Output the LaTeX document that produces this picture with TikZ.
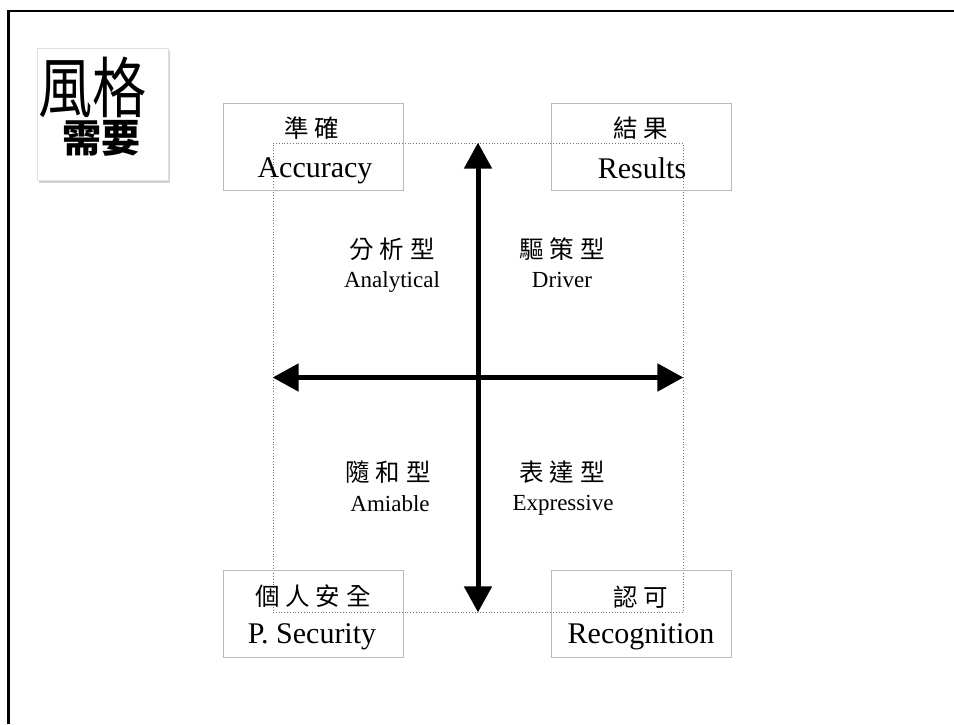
\documentclass[tikz,border=0pt]{standalone}
\usepackage{fontspec}
\setmainfont{Liberation Serif}
\newfontfamily\cjk{Noto Sans CJK TC}
\usetikzlibrary{arrows.meta,shadows}
\def\gap{\hspace{6pt}}
\begin{document}
\begin{tikzpicture}[x=1pt,y=-1pt,
  corner/.style={draw=gray!55, line width=0.8pt, minimum width=180pt, minimum height=87pt, inner sep=0pt},
  zh/.style={font=\cjk\fontsize{24.5}{26}\selectfont, inner sep=0pt},
  en/.style={font=\fontsize{30}{34}\selectfont, inner sep=0pt, anchor=base},
  qen/.style={font=\fontsize{23}{26}\selectfont, inner sep=0pt, anchor=base},
  dotframe/.style={draw=black!55, dotted, line width=0.8pt, minimum width=410pt, minimum height=469pt, inner sep=0pt},
  axis/.style={line width=5pt, {Triangle[length=26pt,width=27pt]}-{Triangle[length=26pt,width=27pt]}}]
\useasboundingbox (0,0) rectangle (954,724);
% slide frame
\draw[line width=2.5pt] (8.5,724) -- (8.5,11) -- (954,11);
% title box
\node[draw=gray!25, fill=white, line width=0.8pt, minimum width=131pt, minimum height=132pt, inner sep=0pt,
      drop shadow={opacity=0.35, shadow xshift=2pt, shadow yshift=-2.5pt}] (title) at (102.5,114) {};
\node[font=\cjk\fontsize{66}{66}\selectfont, inner sep=0pt] (t1) at (93,87) {\scalebox{0.82}[1]{風格}};
\node[font=\cjk\bfseries\fontsize{39}{39}\selectfont, inner sep=0pt] (t2) at (101,138) {需要};
% dotted frame
\node[dotframe] (fr) at (478,377.5) {};
% corner boxes
\node[corner] (acc) at (313,146.5) {};
\node[corner] (res) at (641.5,146.5) {};
\node[corner] (sec) at (313,613.5) {};
\node[corner] (rec) at (641.5,613.5) {};
\node[zh] (accz) at (312,128) {準\gap 確};
\node[en] (acce) at (315,177) {Accuracy};
\node[zh] (resz) at (641,128) {結\gap 果};
\node[en] (rese) at (642,178) {Results};
\node[zh] (secz) at (313,596) {個\gap 人\gap 安\gap 全};
\node[en] (sece) at (312,643) {P. Security};
\node[zh] (recz) at (641,597) {認\gap 可};
\node[en] (rece) at (641,643) {Recognition};
% axes
\draw[axis] (fr.north) -- (fr.south);
\draw[axis] (fr.west) -- (fr.east);
% quadrant labels
\node[zh] (q1z) at (392,249) {分\gap 析\gap 型};
\node[qen] (q1e) at (392,287) {Analytical};
\node[zh] (q2z) at (562,249) {驅\gap 策\gap 型};
\node[qen] (q2e) at (562,287) {Driver};
\node[zh] (q3z) at (388,472) {隨\gap 和\gap 型};
\node[qen] (q3e) at (390,511) {Amiable};
\node[zh] (q4z) at (562,472) {表\gap 達\gap 型};
\node[qen] (q4e) at (563,510) {Expressive};
\end{tikzpicture}
\end{document}
